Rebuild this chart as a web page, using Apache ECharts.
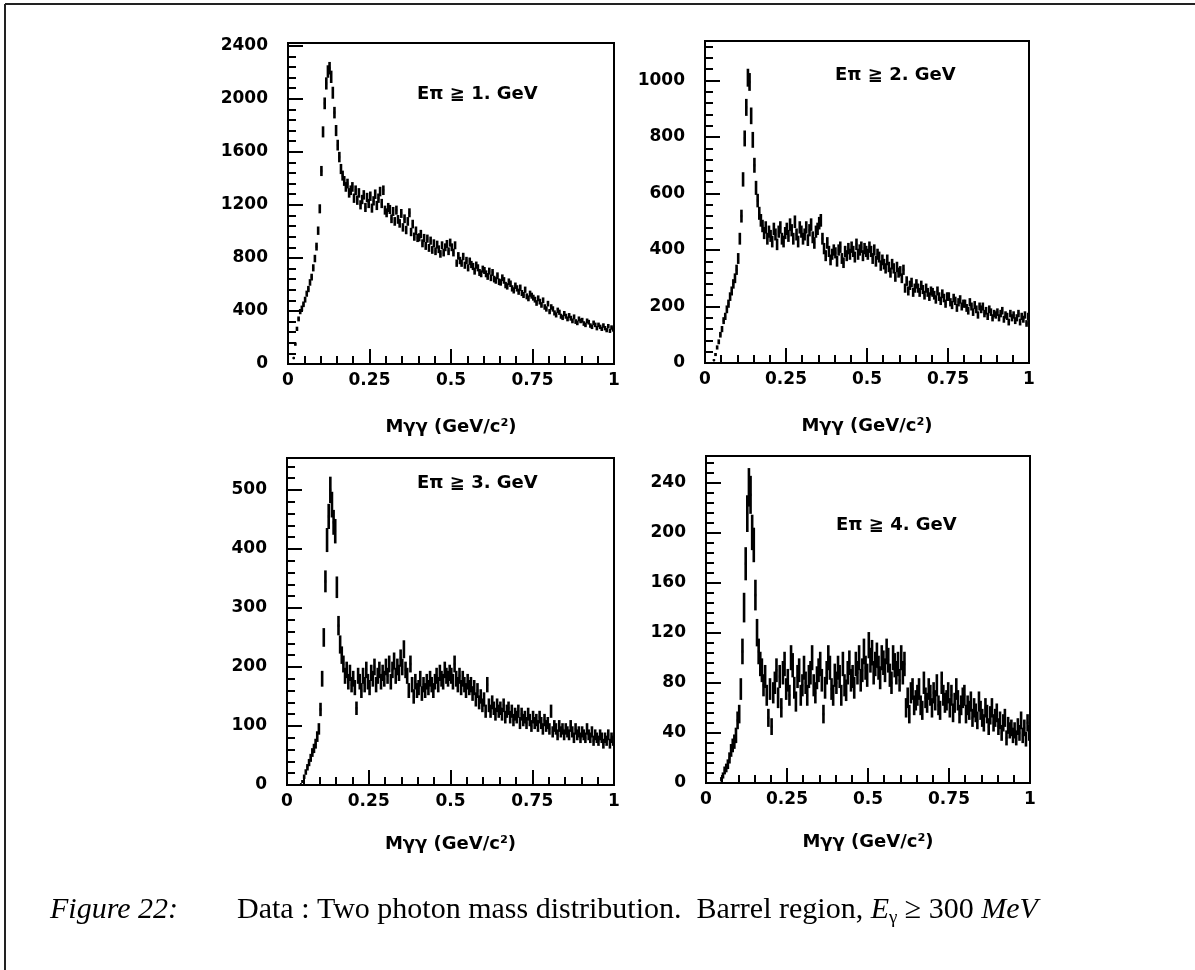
<!DOCTYPE html>
<html>
<head>
<meta charset="utf-8">
<script src="https://cdn.jsdelivr.net/npm/echarts@6/dist/echarts.min.js"></script>
<style>
  html, body { margin: 0; padding: 0; background: #ffffff; }
  #chart { width: 1195px; height: 970px; }
</style>
</head>
<body>
<div id="chart"></div>
<script>
// Two-photon invariant mass spectra, 200 bins of 5 MeV/c^2 between 0 and 1 GeV/c^2.
const massLow = 0;
const massHigh = 1;

// Eπ ≥ 1 GeV
const counts1 = [
  0, 0, 0, 45, 150, 265, 340, 395, 420, 450,
  485, 530, 565, 615, 655, 725, 795, 885, 1005, 1170,
  1455, 1750, 1965, 2115, 2205, 2230, 2165, 2045, 1895, 1760,
  1650, 1560, 1470, 1420, 1380, 1335, 1360, 1290, 1310, 1335,
  1250, 1310, 1235, 1290, 1200, 1240, 1275, 1180, 1255, 1210,
  1265, 1175, 1230, 1280, 1195, 1250, 1300, 1210, 1310, 1160,
  1140, 1180, 1165, 1095, 1150, 1075, 1160, 1090, 1060, 1135,
  1030, 1095, 1010, 1075, 1140, 995, 1055, 960, 1005, 950,
  955, 980, 910, 950, 890, 945, 875, 930, 860, 910,
  850, 900, 865, 830, 895, 840, 880, 905, 850, 915,
  880, 840, 895, 760, 815, 780, 760, 810, 745, 780,
  725, 775, 750, 735, 700, 745, 725, 690, 680, 715,
  705, 680, 660, 700, 650, 690, 640, 630, 665, 620,
  615, 650, 630, 595, 585, 620, 605, 570, 555, 590,
  570, 545, 575, 535, 520, 560, 510, 495, 530, 515,
  500, 485, 460, 495, 470, 445, 480, 430, 415, 455,
  395, 430, 415, 385, 370, 405, 390, 360, 350, 380,
  360, 340, 365, 345, 325, 355, 320, 310, 340, 325,
  330, 305, 295, 325, 315, 290, 280, 310, 295, 270,
  295, 280, 265, 290, 270, 255, 285, 250, 275, 260
];

// Eπ ≥ 2 GeV
const counts2 = [
  0, 0, 0, 0, 0, 10, 30, 55, 75, 100,
  120, 150, 165, 190, 210, 235, 255, 280, 300, 330,
  370, 440, 520, 650, 795, 905, 1010, 995, 875, 790,
  700, 620, 575, 530, 505, 485, 460, 480, 440, 465,
  450, 430, 475, 455, 420, 465, 480, 440, 430, 460,
  475, 450, 490, 470, 440, 500, 455, 430, 480, 465,
  440, 455, 480, 435, 470, 490, 445, 425, 465, 475,
  495, 505, 440, 405, 380, 425, 395, 365, 385, 400,
  390, 360, 400, 410, 370, 355, 395, 380, 405, 385,
  410, 395, 375, 420, 385, 400, 410, 380, 405, 395,
  385, 410, 395, 370, 400, 360, 385, 375, 345, 365,
  350, 335, 365, 340, 320, 350, 335, 305, 340, 320,
  325, 300, 330, 265, 290, 255, 275, 285, 250, 265,
  280, 265, 250, 275, 260, 240, 265, 250, 235, 255,
  250, 240, 225, 255, 235, 220, 245, 230, 210, 235,
  235, 215, 205, 230, 220, 195, 215, 225, 200, 210,
  210, 195, 185, 215, 200, 180, 205, 190, 170, 200,
  190, 200, 175, 185, 165, 190, 180, 160, 175, 170,
  180, 160, 175, 185, 155, 170, 165, 145, 175, 160,
  170, 150, 160, 175, 145, 165, 155, 170, 140, 165
];

// Eπ ≥ 3 GeV
const counts3 = [
  0, 0, 0, 0, 0, 0, 0, 0, 1, 6,
  14, 22, 30, 38, 46, 55, 62, 70, 82, 95,
  128, 180, 250, 345, 415, 455, 500, 475, 445, 430,
  335, 270, 238, 220, 205, 185, 195, 175, 190, 170,
  180, 165, 130, 185, 175, 160, 185, 170, 195, 175,
  165, 190, 180, 200, 170, 185, 195, 175, 190, 180,
  200, 185, 205, 175, 195, 210, 185, 200, 190, 215,
  200, 230, 195, 185, 160, 205, 170, 150, 175, 160,
  165, 180, 155, 170, 160, 175, 165, 180, 170, 160,
  175, 185, 170, 190, 180, 175, 195, 185, 180, 190,
  185, 175, 205, 180, 170, 185, 165, 180, 170, 160,
  175, 165, 170, 155, 165, 145, 160, 140, 150, 135,
  145, 125, 170, 135, 125, 140, 130, 120, 135, 125,
  130, 120, 135, 115, 125, 130, 115, 125, 110, 120,
  115, 125, 105, 120, 110, 115, 105, 120, 110, 100,
  115, 105, 110, 100, 115, 105, 95, 110, 100, 105,
  95, 125, 90, 100, 95, 85, 100, 90, 95, 85,
  95, 90, 85, 100, 90, 80, 95, 85, 90, 80,
  90, 85, 80, 95, 85, 80, 90, 75, 85, 80,
  75, 85, 80, 70, 80, 75, 85, 70, 80, 75
];

// Eπ ≥ 4 GeV
const counts4 = [
  0, 0, 0, 0, 0, 0, 0, 0, 0, 3,
  6, 10, 12, 15, 20, 26, 30, 33, 38, 50,
  55, 75, 105, 140, 175, 215, 236, 230, 200, 190,
  150, 120, 105, 95, 90, 78, 85, 70, 52, 75,
  45, 72, 80, 90, 68, 85, 60, 88, 95, 75,
  82, 70, 100, 94, 76, 65, 85, 90, 70, 78,
  92, 80, 70, 85, 88, 100, 78, 72, 84, 90,
  95, 82, 55, 76, 88, 100, 92, 75, 70, 86,
  80, 92, 85, 70, 95, 78, 74, 88, 96, 82,
  85, 76, 95, 88, 100, 82, 90, 105, 92, 86,
  110, 98, 104, 88, 95, 102, 92, 84, 100, 96,
  90, 105, 98, 86, 80, 100, 94, 88, 95, 82,
  100, 88, 95, 60, 68, 55, 72, 75, 62, 66,
  70, 75, 62, 58, 80, 68, 64, 75, 70, 60,
  72, 66, 78, 62, 58, 80, 70, 64, 66, 72,
  60, 70, 56, 64, 75, 66, 55, 62, 68, 70,
  55, 62, 58, 65, 52, 60, 56, 50, 65, 58,
  52, 48, 60, 55, 45, 54, 60, 48, 52, 56,
  45, 50, 40, 48, 52, 36, 46, 42, 44, 38,
  42, 36, 45, 40, 50, 38, 44, 35, 48, 40
];

const panelTitles = ['Eπ ≧ 1. GeV', 'Eπ ≧ 2. GeV', 'Eπ ≧ 3. GeV', 'Eπ ≧ 4. GeV'];
const massAxisName = 'Mγγ (GeV/c²)';

// Tick values and labels
const xMajorTicks = [0, 0.25, 0.5, 0.75, 1];
const xTickLabels = ['0', '0.25', '0.5', '0.75', '1'];
const yMajorTicks = [
  [0, 400, 800, 1200, 1600, 2000, 2400],
  [0, 200, 400, 600, 800, 1000],
  [0, 100, 200, 300, 400, 500],
  [0, 40, 80, 120, 160, 200, 240]
];
const yTickLabels = [
  ['0', '400', '800', '1200', '1600', '2000', '2400'],
  ['0', '200', '400', '600', '800', '1000'],
  ['0', '100', '200', '300', '400', '500'],
  ['0', '40', '80', '120', '160', '200', '240']
];
const yTickStep = [400, 200, 100, 40];
const yAxisMax = [2420, 1140, 554, 261];

const allCounts = [counts1, counts2, counts3, counts4];

// Panel boxes in pixels
const panelBoxes = [
  { left: 288, top: 43, width: 326, height: 321 },
  { left: 705, top: 41, width: 324, height: 322 },
  { left: 287, top: 458, width: 327, height: 327 },
  { left: 706, top: 456, width: 324, height: 327 }
];
const titlePos = [[417, 94], [835, 75], [417, 483], [836, 525]];
const axisNameGap = [54, 54, 50, 50];

const ink = '#000000';
const sansFont = 'DejaVu Sans';

// five subdivisions between major ticks
function minorTicks(major, step, max) {
  const out = [];
  for (let k = 0; k < major.length; k++) {
    for (let j = 1; j < 5; j++) {
      const v = +(major[k] + j * step / 5).toFixed(6);
      if (v < max) out.push(v);
    }
  }
  return out;
}

function histogramData(counts) {
  const w = (massHigh - massLow) / counts.length;
  return counts.map((c, i) => [+(massLow + (i + 0.5) * w).toFixed(6), c]);
}

function lookupLabel(values, labels, v) {
  for (let k = 0; k < values.length; k++) {
    if (Math.abs(values[k] - v) < 1e-6) return labels[k];
  }
  return '';
}

// each bin: horizontal stroke across the bin at the content, vertical ±√N error bar
function renderBin(params, api) {
  const n = api.value(1);
  if (!(n > 0)) return null;
  const x = api.value(0);
  const half = (massHigh - massLow) / 400;
  const err = Math.sqrt(n);
  const top = api.coord([x, n + err]);
  const bot = api.coord([x, Math.max(0, n - err)]);
  const l = api.coord([x - half, n]);
  const r = api.coord([x + half, n]);
  const st = { stroke: ink, lineWidth: 2.6 };
  return {
    type: 'group',
    children: [
      { type: 'line', shape: { x1: top[0], y1: top[1], x2: bot[0], y2: bot[1] }, style: st },
      { type: 'line', shape: { x1: l[0], y1: l[1], x2: r[0], y2: r[1] }, style: st }
    ]
  };
}

const grids = [], xAxes = [], yAxes = [], series = [], graphics = [];
const xMinor = minorTicks(xMajorTicks, 0.25, 1);
const tickFont = { color: ink, fontFamily: sansFont, fontSize: 17, fontWeight: 'bold' };

panelBoxes.forEach((box, g) => {
  grids.push(Object.assign({ show: true, borderColor: ink, borderWidth: 2, backgroundColor: 'transparent' }, box));

  xAxes.push({
    gridIndex: g, type: 'value', position: 'bottom', min: 0, max: 1,
    axisLine: { show: true, onZero: false, lineStyle: { color: ink, width: 2 } },
    axisTick: { show: true, inside: true, length: 15, customValues: xMajorTicks, lineStyle: { color: ink, width: 2 } },
    axisLabel: Object.assign({
      show: true, customValues: xMajorTicks, margin: 8,
      formatter: v => lookupLabel(xMajorTicks, xTickLabels, v)
    }, tickFont),
    splitLine: { show: false },
    name: massAxisName, nameLocation: 'middle', nameGap: axisNameGap[g],
    nameTextStyle: { color: ink, fontFamily: sansFont, fontSize: 18, fontWeight: 'bold' }
  });
  xAxes.push({
    gridIndex: g, type: 'value', position: 'bottom', min: 0, max: 1,
    axisLine: { show: false },
    axisTick: { show: true, inside: true, length: 8, customValues: xMinor, lineStyle: { color: ink, width: 2 } },
    axisLabel: { show: false },
    splitLine: { show: false }
  });

  const yMinor = minorTicks(yMajorTicks[g], yTickStep[g], yAxisMax[g]);
  yAxes.push({
    gridIndex: g, type: 'value', position: 'left', min: 0, max: yAxisMax[g],
    axisLine: { show: true, onZero: false, lineStyle: { color: ink, width: 2 } },
    axisTick: { show: true, inside: true, length: 15, customValues: yMajorTicks[g], lineStyle: { color: ink, width: 2 } },
    axisLabel: Object.assign({
      show: true, customValues: yMajorTicks[g], margin: 20,
      formatter: v => lookupLabel(yMajorTicks[g], yTickLabels[g], v)
    }, tickFont),
    splitLine: { show: false }
  });
  yAxes.push({
    gridIndex: g, type: 'value', position: 'left', min: 0, max: yAxisMax[g],
    axisLine: { show: false },
    axisTick: { show: true, inside: true, length: 8, customValues: yMinor, lineStyle: { color: ink, width: 2 } },
    axisLabel: { show: false },
    splitLine: { show: false }
  });

  series.push({
    type: 'custom', name: panelTitles[g],
    xAxisIndex: 2 * g, yAxisIndex: 2 * g,
    data: histogramData(allCounts[g]),
    encode: { x: 0, y: 1 },
    renderItem: renderBin,
    clip: true, silent: true
  });

  graphics.push({
    type: 'text', x: titlePos[g][0], y: titlePos[g][1],
    style: {
      text: panelTitles[g], fill: ink,
      font: 'bold 18px "DejaVu Sans"', textAlign: 'left', textVerticalAlign: 'middle'
    }
  });
});

// page frame
graphics.push({ type: 'line', shape: { x1: 5, y1: 4, x2: 1195, y2: 4 }, style: { stroke: '#222', lineWidth: 2 } });
graphics.push({ type: 'line', shape: { x1: 5, y1: 4, x2: 5, y2: 970 }, style: { stroke: '#222', lineWidth: 2 } });

// caption
graphics.push({
  type: 'text', x: 50, y: 910,
  style: {
    text: 'Figure 22:', fill: ink,
    font: 'italic 30px "Liberation Serif"', textAlign: 'left', textVerticalAlign: 'middle'
  }
});
graphics.push({
  type: 'text', x: 237, y: 910,
  style: {
    text: '{n|Data : Two photon mass distribution.  Barrel region, }{i|E}{s|γ}{n| ≥ 300 }{i|MeV}',
    textVerticalAlign: 'middle', textAlign: 'left',
    rich: {
      n: { fontFamily: 'Liberation Serif', fontSize: 30, lineHeight: 36, color: ink },
      i: { fontFamily: 'Liberation Serif', fontStyle: 'italic', fontSize: 30, lineHeight: 36, color: ink },
      s: { fontFamily: 'Liberation Serif', fontSize: 19, lineHeight: 14, verticalAlign: 'bottom', color: ink }
    }
  }
});

const chart = echarts.init(document.getElementById('chart'), null, { renderer: 'canvas' });
chart.setOption({
  animation: false,
  backgroundColor: '#ffffff',
  grid: grids,
  xAxis: xAxes,
  yAxis: yAxes,
  series: series,
  graphic: graphics
});
</script>
</body>
</html>
